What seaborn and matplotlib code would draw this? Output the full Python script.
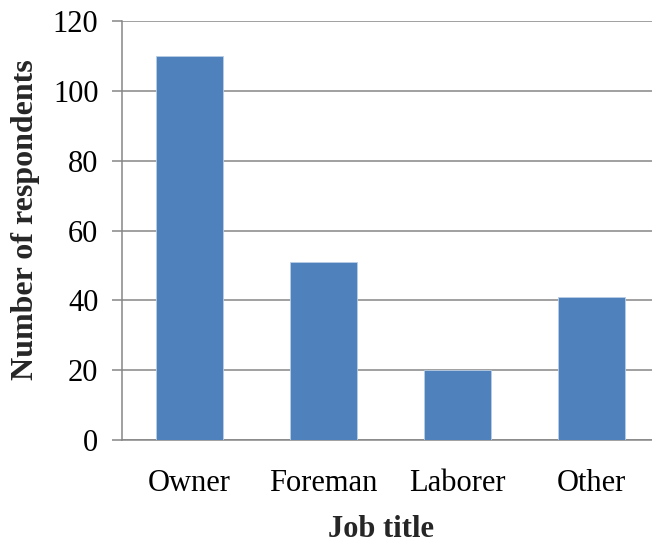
import matplotlib
matplotlib.use("Agg")
import matplotlib.pyplot as plt
import seaborn as sns
import pandas as pd

categories = ["Owner", "Foreman", "Laborer", "Other"]
respondents = [110, 51, 20, 41]
y_ticks = [0, 20, 40, 60, 80, 100, 120]

sns.set_style("white")
plt.rcParams["font.family"] = ["Liberation Serif", "DejaVu Serif"]

df = pd.DataFrame({"Job title": categories, "Number of respondents": respondents})

fig = plt.figure(figsize=(6.52, 5.46), dpi=100)
ax = fig.add_axes([122 / 652, 106 / 546, 1 - 122 / 652, 419 / 546])

grid_c = "#868686"
sns.barplot(data=df, x="Job title", y="Number of respondents", color="#4F81BD",
            width=0.5, saturation=1, ax=ax, edgecolor="#B9CDE5", linewidth=0.6, zorder=3)

ax.set_ylim(0, 120)
ax.set_xlim(-0.5, 3.5 - 6 / 134)
ax.set_yticks(y_ticks)
ax.yaxis.grid(True, color=grid_c, linewidth=1.1, zorder=0)
ax.set_axisbelow(True)

for s in ["top", "right"]:
    ax.spines[s].set_visible(False)
for s in ["left", "bottom"]:
    ax.spines[s].set_color(grid_c)
    ax.spines[s].set_linewidth(1.1)

# category boundary ticks on x axis
ax.set_xticks([0, 1, 2, 3])
ax.set_xticklabels(categories)
ax.tick_params(axis="x", length=0, pad=21, labelsize=22, colors="black")
ax.set_xticks([-0.5, 0.5, 1.5, 2.5], minor=True)
ax.tick_params(axis="x", which="minor", length=6, width=1.1, color=grid_c, direction="out")
ax.tick_params(axis="y", length=7, width=1.1, color=grid_c, labelcolor="black",
               labelsize=22, pad=10, direction="out", left=True)

ax.set_xlabel("Job title", fontsize=22, fontweight="bold", labelpad=12)
ax.set_ylabel("Number of respondents", fontsize=23, fontweight="bold", labelpad=9)
ax.xaxis.label.set_x(0.489)
ax.yaxis.label.set_y(0.527)

fig.savefig("out.png", dpi=100)
